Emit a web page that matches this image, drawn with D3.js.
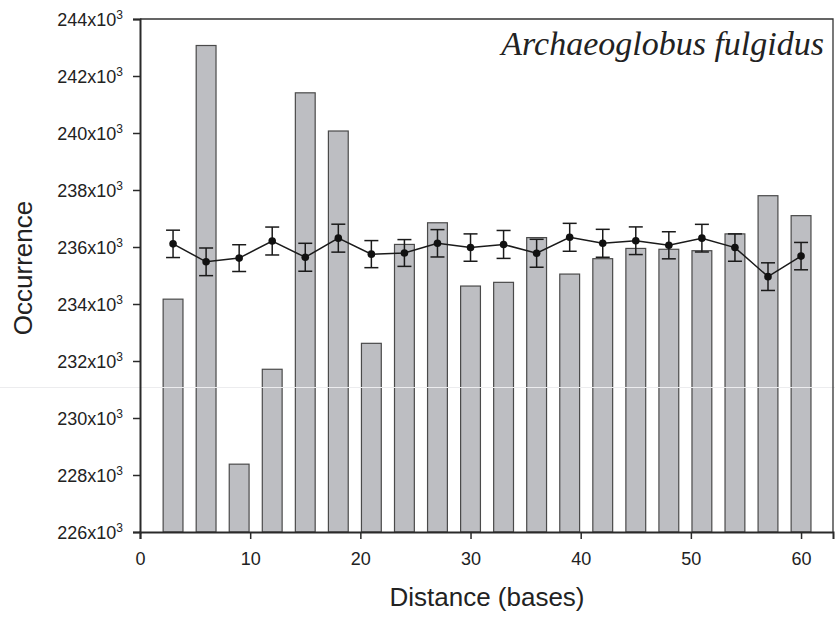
<!DOCTYPE html>
<html><head><meta charset="utf-8">
<script src="https://cdn.jsdelivr.net/npm/d3@7"></script>
<style>body{margin:0;background:#fff}</style>
</head><body>
<script>
const distances = [3,6,9,12,15,18,21,24,27,30,33,36,39,42,45,48,51,54,57,60];
const barValues = [234170,243070,228380,231710,241410,240070,232620,236090,236850,234630,234760,236330,235050,235590,235950,235920,235870,236460,237800,237100];
const meanValues = [236110,235480,235610,236210,235640,236310,235750,235790,236130,235980,236090,235780,236340,236130,236220,236060,236310,235980,234960,235680];
const errValues = [480,485,470,490,490,490,475,470,480,480,490,490,490,490,485,475,485,480,485,480];
const yTicks = [226,228,230,232,234,236,238,240,242,244];
const xTicks = [0,10,20,30,40,50,60];
const title = "Archaeoglobus fulgidus";

const W = 835, H = 622;
const m = {left:140, right:833, top:19, bottom:532};
const svg = d3.select("body").append("svg").attr("width",W).attr("height",H);
const x = d3.scaleLinear().domain([0,62.9]).range([m.left,m.right]);
const y = d3.scaleLinear().domain([226000,244000]).range([m.bottom,m.top]);
const font = "Liberation Sans, Arial, sans-serif";

// bars
const bw = x(1.8)-x(0);
svg.append("g").selectAll("rect").data(distances).join("rect")
  .attr("x",(d)=>x(d)-bw/2).attr("width",bw)
  .attr("y",(d,i)=>y(barValues[i])).attr("height",(d,i)=>y(226000)-y(barValues[i]))
  .attr("fill","#bdbec2").attr("stroke","#4a4a4a").attr("stroke-width",1.2);

// scan seam line
svg.append("line").attr("x1",0).attr("x2",W).attr("y1",387.5).attr("y2",387.5)
  .attr("stroke","#ececee").attr("stroke-width",1.2);

// frame top/right
svg.append("path").attr("d",`M${m.left},${m.top}H${m.right}V${m.bottom}`)
  .attr("fill","none").attr("stroke","#333").attr("stroke-width",1.3);

// y axis
const ya = svg.append("g").attr("transform",`translate(${m.left},0)`)
  .call(d3.axisLeft(y).tickValues(yTicks.map(v=>v*1000)).tickSize(7).tickFormat(""));
ya.select(".domain").attr("stroke","#2a2a2a").attr("stroke-width",2);
ya.selectAll(".tick line").attr("stroke","#2a2a2a").attr("stroke-width",1.5);
const yl = svg.append("g");
yTicks.forEach(v=>{
  const t = yl.append("text").attr("x",123).attr("y",y(v*1000)+6.5)
    .attr("text-anchor","end").attr("font-family",font).attr("font-size",18).attr("fill","#222");
  t.append("tspan").text(v+"x10");
  t.append("tspan").text("3").attr("font-size",12).attr("dy",-7);
});

// x axis
const xa = svg.append("g").attr("transform",`translate(0,${m.bottom})`)
  .call(d3.axisBottom(x).tickValues(xTicks).tickSize(7).tickFormat(d3.format("d")).tickPadding(13));
xa.select(".domain").attr("stroke","#2a2a2a").attr("stroke-width",2);
xa.selectAll(".tick line").attr("stroke","#2a2a2a").attr("stroke-width",1.5);
xa.selectAll("text").attr("font-family",font).attr("font-size",18).attr("fill","#222");

// line with error bars
const pts = distances.map((d,i)=>({x:d,v:meanValues[i],e:errValues[i]}));
svg.append("path").datum(pts)
  .attr("d",d3.line().x(d=>x(d.x)).y(d=>y(d.v)))
  .attr("fill","none").attr("stroke","#1a1a1a").attr("stroke-width",1.5);
const eb = svg.append("g").attr("stroke","#1a1a1a").attr("stroke-width",1.5);
pts.forEach(p=>{
  eb.append("line").attr("x1",x(p.x)).attr("x2",x(p.x)).attr("y1",y(p.v+p.e)).attr("y2",y(p.v-p.e));
  eb.append("line").attr("x1",x(p.x)-7).attr("x2",x(p.x)+7).attr("y1",y(p.v+p.e)).attr("y2",y(p.v+p.e));
  eb.append("line").attr("x1",x(p.x)-7).attr("x2",x(p.x)+7).attr("y1",y(p.v-p.e)).attr("y2",y(p.v-p.e));
});
svg.append("g").selectAll("circle").data(pts).join("circle")
  .attr("cx",d=>x(d.x)).attr("cy",d=>y(d.v)).attr("r",3.8).attr("fill","#111");

// titles
svg.append("text").attr("x",824).attr("y",55).attr("text-anchor","end")
  .attr("font-family","Liberation Serif, serif").attr("font-style","italic").attr("font-size",34)
  .attr("fill","#222").text(title);
svg.append("text").attr("transform",`translate(32,268) rotate(-90)`)
  .attr("text-anchor","middle").attr("font-family",font).attr("font-size",26).attr("fill","#222").text("Occurrence");
svg.append("text").attr("x",487).attr("y",606).attr("text-anchor","middle")
  .attr("font-family",font).attr("font-size",26).attr("fill","#222").text("Distance (bases)");
</script>
</body></html>
